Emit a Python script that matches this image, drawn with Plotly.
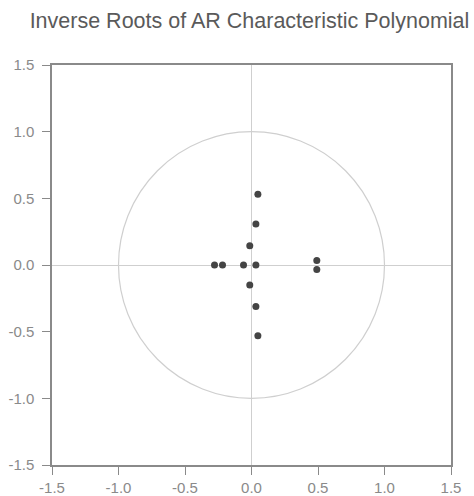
import plotly.graph_objects as go

root_re = [0.048, 0.033, -0.013, -0.013, 0.033, 0.048, -0.278, -0.218, -0.060, 0.033, 0.491, 0.491]
root_im = [0.531, 0.308, 0.145, -0.150, -0.311, -0.531, 0.0, 0.0, 0.0, 0.0, 0.033, -0.033]

tick_vals = [-1.5, -1.0, -0.5, 0.0, 0.5, 1.0, 1.5]
tick_text = ["-1.5", "-1.0", "-0.5", "0.0", "0.5", "1.0", "1.5"]
title_text = "Inverse Roots of AR Characteristic Polynomial"

fig = go.Figure()
fig.add_trace(go.Scatter(
    x=root_re, y=root_im, mode="markers",
    marker=dict(color="#444444", size=7, line=dict(width=0)),
    showlegend=False, hoverinfo="x+y",
))

fig.add_shape(type="circle", xref="x", yref="y", x0=-1, y0=-1, x1=1, y1=1,
              line=dict(color="#cfcfcf", width=1.2), layer="below")

axis_common = dict(
    range=[-1.5, 1.5], tickvals=tick_vals, ticktext=tick_text,
    showgrid=False, zeroline=True, zerolinecolor="#cfcfcf", zerolinewidth=1.2,
    showline=True, linecolor="#8a8a8a", linewidth=1.5, mirror=True,
    ticks="outside", ticklen=8, tickcolor="#8a8a8a", tickwidth=1.2,
    tickfont=dict(family="Liberation Sans, Arial, sans-serif", size=15, color="#8a8a8a"),
    fixedrange=True, automargin=False,
)

fig.update_layout(
    width=474, height=496,
    margin=dict(l=52, r=23, t=65, b=31, autoexpand=False),
    paper_bgcolor="white", plot_bgcolor="white",
    title=dict(text=title_text, xref="paper", x=0.495, xanchor="center", y=0.958, yanchor="middle",
               font=dict(family="Liberation Sans, Arial, sans-serif", size=21.5, color="#5a5a5a")),
    xaxis=dict(axis_common, ticklabelstandoff=0),
    yaxis=dict(axis_common, ticklabelstandoff=5),
)

fig.write_html("out.html", config={"displayModeBar": False},
               post_script="document.body.style.margin='0px';document.body.style.overflow='hidden';")
